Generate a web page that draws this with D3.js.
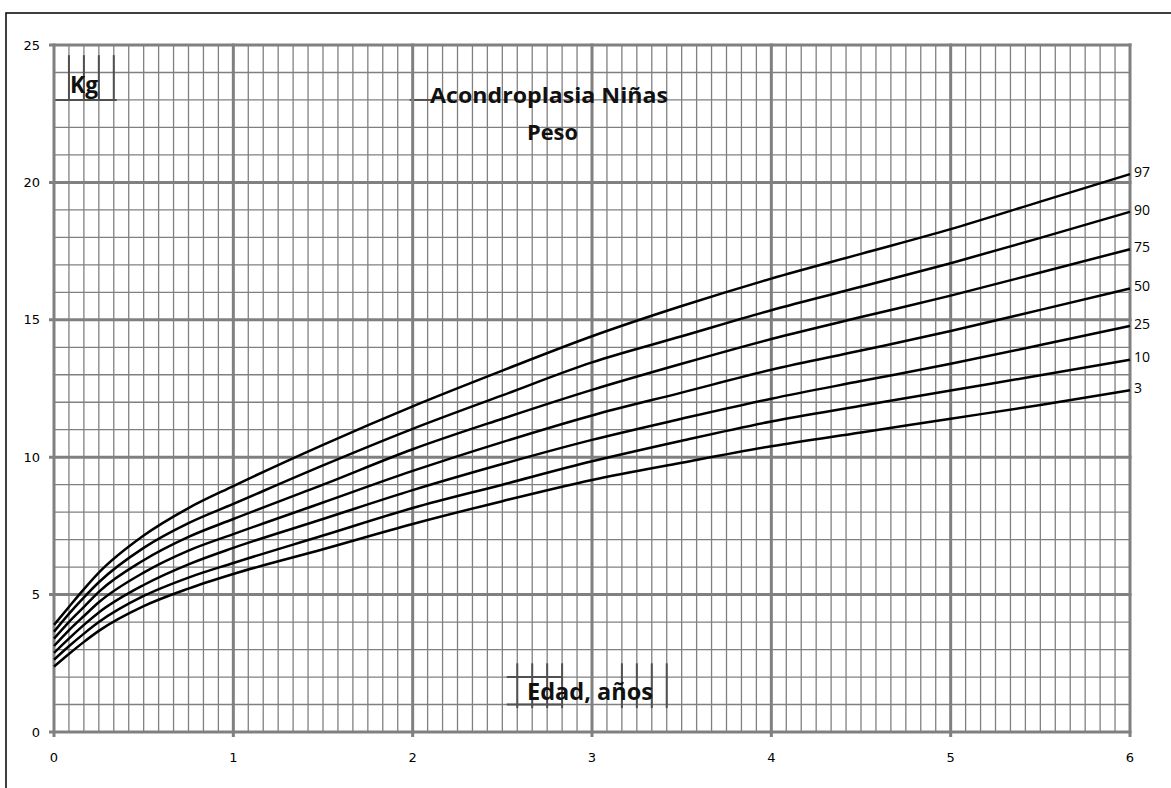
<!DOCTYPE html>
<html><head><meta charset="utf-8">
<script src="https://cdn.jsdelivr.net/npm/d3@7"></script>
<style>body{margin:0;background:#fff}svg{display:block}</style>
</head><body>
<script>
// ---- data ----
const ages = [0, 0.083, 0.167, 0.25, 0.5, 0.75, 1, 1.5, 2, 2.5, 3, 3.5, 4, 4.5, 5, 5.5, 6];
const p97 = [3.9, 4.55, 5.2, 5.8, 7.15, 8.15, 8.95, 10.45, 11.85, 13.15, 14.4, 15.5, 16.5, 17.4, 18.3, 19.3, 20.3];
const p90 = [3.65, 4.3, 4.9, 5.45, 6.7, 7.6, 8.3, 9.7, 11.03, 12.25, 13.45, 14.4, 15.35, 16.2, 17.06, 17.98, 18.93];
const p75 = [3.4, 4.0, 4.55, 5.1, 6.25, 7.1, 7.75, 9.0, 10.29, 11.4, 12.45, 13.4, 14.3, 15.1, 15.88, 16.72, 17.57];
const p50 = [3.13, 3.7, 4.22, 4.72, 5.8, 6.6, 7.2, 8.35, 9.5, 10.55, 11.52, 12.35, 13.18, 13.88, 14.59, 15.36, 16.14];
const p25 = [2.88, 3.4, 3.9, 4.35, 5.35, 6.1, 6.7, 7.75, 8.8, 9.75, 10.63, 11.4, 12.13, 12.77, 13.4, 14.08, 14.78];
const p10 = [2.63, 3.12, 3.58, 4.0, 4.95, 5.62, 6.15, 7.15, 8.15, 9.0, 9.85, 10.6, 11.3, 11.87, 12.43, 12.98, 13.55];
const p3  = [2.38, 2.84, 3.28, 3.68, 4.58, 5.22, 5.75, 6.65, 7.57, 8.4, 9.17, 9.8, 10.4, 10.9, 11.4, 11.9, 12.44];
const seriesNames = ["97", "90", "75", "50", "25", "10", "3"];
const seriesValues = [p97, p90, p75, p50, p25, p10, p3];
const xTicks = [0, 1, 2, 3, 4, 5, 6];
const yTicks = [0, 5, 10, 15, 20, 25];
const titleLines = ["Acondroplasia Niñas", "Peso"];
const yLabel = "Kg";
const xLabel = "Edad, años";

// ---- layout ----
const W = 1171, H = 788;
const svg = d3.select("body").append("svg").attr("width", W).attr("height", H);
const x = d3.scaleLinear().domain([0, 6]).range([54, 1130]);
const y = d3.scaleLinear().domain([0, 25]).range([732, 45]);
const grid = "#808080";

// outer frame
svg.append("path").attr("d", `M6,${H+2} V13 H${W+2}`).attr("fill", "none")
  .attr("stroke", "#000").attr("stroke-width", 1.5);

const g = svg.append("g");
// minor grid: monthly verticals, 1 kg horizontals
const months = d3.range(0, 73);
g.selectAll(".mv").data(months.filter(m => m % 12 !== 0)).join("line")
  .attr("x1", m => x(m / 12)).attr("x2", m => x(m / 12))
  .attr("y1", y(0)).attr("y2", y(25))
  .attr("stroke", grid).attr("stroke-width", 1.3);
const kgs = d3.range(0, 26);
g.selectAll(".mh").data(kgs.filter(k => k % 5 !== 0)).join("line")
  .attr("x1", x(0)).attr("x2", x(6))
  .attr("y1", k => y(k)).attr("y2", k => y(k))
  .attr("stroke", grid).attr("stroke-width", 1.3);

// decorative darker fragments (text box edges in the original)
const dark = "#505050";
const frag = [
  ...[0,1,2,3,4].map(m => [m/12, 24.63, m/12, 23]),
  [0, 23, 4.2/12, 23],
  [23.8/12, 23, 25.4/12, 23],
  ...[31,32,33,34,38,39,40,41].map(m => [m/12, 2.5, m/12, 0.87]),
  [30.3/12, 2, 34/12, 2], [30.3/12, 1, 34/12, 1]
];
g.selectAll(".frag").data(frag).join("line")
  .attr("x1", d => x(d[0])).attr("y1", d => y(d[1]))
  .attr("x2", d => x(d[2])).attr("y2", d => y(d[3]))
  .attr("stroke", dark).attr("stroke-width", 2);

// major grid
g.selectAll(".Mv").data(xTicks).join("line")
  .attr("x1", d => x(d)).attr("x2", d => x(d))
  .attr("y1", y(0) + 5).attr("y2", y(25) - 1.5)
  .attr("stroke", grid).attr("stroke-width", 3);
g.selectAll(".Mh").data(yTicks).join("line")
  .attr("x1", x(0) - 5).attr("x2", x(6) + 1.5)
  .attr("y1", d => y(d)).attr("y2", d => y(d))
  .attr("stroke", grid).attr("stroke-width", 3);

// axis labels
svg.selectAll(".yt").data(yTicks).join("text")
  .attr("x", 40).attr("y", d => y(d)).attr("dy", "0.35em")
  .attr("text-anchor", "end").attr("font-family", "DejaVu Sans").attr("font-size", 13)
  .attr("fill", "#000").text(d => d);
svg.selectAll(".xt").data(xTicks).join("text")
  .attr("x", d => x(d)).attr("y", 762)
  .attr("text-anchor", "middle").attr("font-family", "DejaVu Sans").attr("font-size", 13)
  .attr("fill", "#000").text(d => d);

// curves
const line = d3.line().x((d, i) => x(ages[i])).y(d => y(d)).curve(d3.curveMonotoneX);
svg.selectAll(".curve").data(seriesValues).join("path")
  .attr("d", d => line(d)).attr("fill", "none")
  .attr("stroke", "#000").attr("stroke-width", 2.5);

// end labels
svg.selectAll(".lab").data(seriesValues).join("text")
  .attr("x", x(6) + 4).attr("y", d => y(d[d.length - 1])).attr("dy", "0.2em")
  .attr("font-family", "Open Sans").attr("font-size", 14).attr("fill", "#000")
  .text((d, i) => seriesNames[i]);

// titles
svg.append("text").attr("x", 70).attr("y", 93).attr("font-family", "Open Sans")
  .attr("font-weight", "bold").attr("font-size", 24).attr("textLength", 28)
  .attr("lengthAdjust", "spacingAndGlyphs").attr("fill", "#111").text(yLabel);
svg.append("text").attr("x", 430).attr("y", 103).attr("font-family", "Open Sans")
  .attr("font-weight", "bold").attr("font-size", 21).attr("textLength", 238)
  .attr("lengthAdjust", "spacingAndGlyphs").attr("fill", "#111").text(titleLines[0]);
svg.append("text").attr("x", 527).attr("y", 140).attr("font-family", "Open Sans")
  .attr("font-weight", "bold").attr("font-size", 21).attr("textLength", 51)
  .attr("lengthAdjust", "spacingAndGlyphs").attr("fill", "#111").text(titleLines[1]);
svg.append("text").attr("x", 527).attr("y", 700).attr("font-family", "Open Sans")
  .attr("font-weight", "bold").attr("font-size", 24).attr("textLength", 126)
  .attr("lengthAdjust", "spacingAndGlyphs").attr("fill", "#111").text(xLabel);
</script>
</body></html>
